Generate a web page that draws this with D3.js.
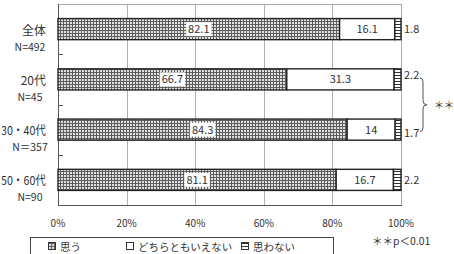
<!DOCTYPE html>
<html>
<head>
<meta charset="utf-8">
<script src="https://cdn.jsdelivr.net/npm/d3@7"></script>
<style>
  body { margin: 0; background: #fff; }
  text { font-family: "Noto Sans CJK JP", "Noto Sans", sans-serif; fill: #333; }
</style>
</head>
<body>
<svg id="chart" width="454" height="254"></svg>
<script>
// chart data
var groups = ["全体", "20代", "30・40代", "50・60代"];
var groupN = ["N=492", "N=45", "N＝357", "N=90"];
var series = ["思う", "どちらともいえない", "思わない"];
var agree = [82.1, 66.7, 84.3, 81.1];
var neutral = [16.1, 31.3, 14, 16.7];
var disagree = [1.8, 2.2, 1.7, 2.2];
var xTicks = [0, 20, 40, 60, 80, 100];
var note = "＊＊p＜0.01";
var braceMark = "＊＊";

var svg = d3.select("#chart");
var plotL = 58, plotR = 401, plotT = 4, plotB = 205;

var x = d3.scaleLinear().domain([0, 100]).range([plotL, plotR]);
var y = d3.scaleBand().domain(groups).range([plotT, plotB])
  .paddingInner(0.58).paddingOuter(0.29);
var step = y.step();

// patterns
var defs = svg.append("defs");
var dots = defs.append("pattern")
  .attr("id", "dots").attr("patternUnits", "userSpaceOnUse")
  .attr("width", 3).attr("height", 3);
dots.append("rect").attr("width", 3).attr("height", 3).attr("fill", "#e0e0e0");
dots.append("rect").attr("width", 3).attr("height", 1).attr("fill", "#5e5e5e");
dots.append("rect").attr("width", 1).attr("height", 3).attr("fill", "#5e5e5e");

var stripes = defs.append("pattern")
  .attr("id", "stripes").attr("patternUnits", "userSpaceOnUse")
  .attr("width", 4).attr("height", 3);
stripes.append("rect").attr("width", 4).attr("height", 3).attr("fill", "#fff");
stripes.append("rect").attr("width", 4).attr("height", 1).attr("fill", "#333");

var fills = ["url(#dots)", "#fff", "url(#stripes)"];

// grid lines
svg.append("g").selectAll("line")
  .data(xTicks.slice(1, -1))
  .enter().append("line")
  .attr("x1", function(d) { return Math.round(x(d)) + 0.5; })
  .attr("x2", function(d) { return Math.round(x(d)) + 0.5; })
  .attr("y1", plotT).attr("y2", plotB)
  .attr("stroke", "#b0b0b0").attr("stroke-width", 1);

// frame
svg.append("line").attr("x1", plotL).attr("x2", plotR).attr("y1", plotT + 0.5).attr("y2", plotT + 0.5)
  .attr("stroke", "#aaa");
svg.append("line").attr("x1", plotR + 0.5).attr("x2", plotR + 0.5).attr("y1", plotT).attr("y2", plotB)
  .attr("stroke", "#aaa");
svg.append("line").attr("x1", plotL).attr("x2", plotR + 1).attr("y1", plotB + 0.5).attr("y2", plotB + 0.5)
  .attr("stroke", "#555");
svg.append("line").attr("x1", plotL + 0.5).attr("x2", plotL + 0.5).attr("y1", plotT).attr("y2", plotB + 1)
  .attr("stroke", "#555");

// inner ticks between groups
svg.append("g").selectAll("line")
  .data(d3.range(1, groups.length))
  .enter().append("line")
  .attr("x1", plotL).attr("x2", plotL + 5)
  .attr("y1", function(k) { return Math.round(plotT + k * step) + 0.5; })
  .attr("y2", function(k) { return Math.round(plotT + k * step) + 0.5; })
  .attr("stroke", "#555");

// stacked bars
var rows = groups.map(function(g, i) {
  var vals = [agree[i], neutral[i], disagree[i]];
  var start = 0;
  return vals.map(function(v, j) {
    var seg = { group: g, idx: i, series: j, value: v, x0: start, x1: start + v };
    start += v;
    return seg;
  });
});

var segs = svg.append("g").selectAll("g")
  .data(rows).enter().append("g");

segs.selectAll("rect")
  .data(function(d) { return d; })
  .enter().append("rect")
  .attr("x", function(d) { return x(d.x0); })
  .attr("y", function(d) { return y(d.group); })
  .attr("width", function(d) { return x(Math.min(d.x1, 100)) - x(d.x0); })
  .attr("height", y.bandwidth())
  .attr("fill", function(d) { return fills[d.series]; })
  .attr("stroke", "#222")
  .attr("stroke-width", 1.4);

// value labels
rows.forEach(function(r) {
  var d = r[0];
  var cx = x((d.x0 + d.x1) / 2);
  var cy = y(d.group) + y.bandwidth() / 2;
  var g = svg.append("g");
  var t = g.append("text")
    .attr("x", cx).attr("y", cy + 4)
    .attr("text-anchor", "middle")
    .attr("font-size", 11)
    .text(d.value);
  var bb = t.node().getBBox();
  g.insert("rect", "text")
    .attr("x", bb.x - 2).attr("y", cy - 7)
    .attr("width", bb.width + 4).attr("height", 14)
    .attr("fill", "#fff");

  var n = r[1];
  svg.append("text")
    .attr("x", x((n.x0 + n.x1) / 2)).attr("y", cy + 4)
    .attr("text-anchor", "middle")
    .attr("font-size", 11)
    .text(n.value);

  var o = r[2];
  var shift = o.idx === 1 ? -4 : (o.idx === 2 ? 3 : 0);
  svg.append("text")
    .attr("x", x(100) + 3).attr("y", cy + 4 + shift)
    .attr("font-size", 11)
    .text(o.value);
});

// category labels
groups.forEach(function(g, i) {
  var cy = y(g) + y.bandwidth() / 2;
  var t = svg.append("text")
    .attr("x", 46).attr("y", cy + 5.5)
    .attr("text-anchor", "end")
    .attr("font-size", 12)
    .text(g);
  // squeeze long labels so they fit left of the axis
  if (t.node().getComputedTextLength() > 45) {
    t.attr("textLength", 45).attr("lengthAdjust", "spacingAndGlyphs");
  }
  svg.append("text")
    .attr("x", 30).attr("y", cy + 21.5)
    .attr("text-anchor", "middle")
    .attr("font-size", 10.5)
    .text(groupN[i]);
});

// x tick labels
svg.append("g").selectAll("text")
  .data(xTicks).enter().append("text")
  .attr("x", function(d) { return x(d); })
  .attr("y", 227)
  .attr("text-anchor", "middle")
  .attr("font-size", 10)
  .text(function(d) { return d + "%"; });

// brace between 20代 and 30・40代
var bTop = y(groups[1]) + y.bandwidth() / 2 - 1.5;
var bBot = y(groups[2]) + y.bandwidth() / 2 + 2;
var bMid = (bTop + bBot) / 2;
var bx = 423;
svg.append("path")
  .attr("d", "M" + (bx - 3) + "," + bTop +
    " Q" + bx + "," + bTop + " " + bx + "," + (bTop + 4) +
    " L" + bx + "," + (bMid - 4) +
    " Q" + bx + "," + bMid + " " + (bx + 4) + "," + bMid +
    " Q" + bx + "," + bMid + " " + bx + "," + (bMid + 4) +
    " L" + bx + "," + (bBot - 4) +
    " Q" + bx + "," + bBot + " " + (bx - 3) + "," + bBot)
  .attr("fill", "none").attr("stroke", "#555").attr("stroke-width", 1);
svg.append("text")
  .attr("x", 434).attr("y", bMid + 4)
  .attr("font-size", 10)
  .text(braceMark);

// legend
svg.append("rect")
  .attr("x", 30.5).attr("y", 237.5)
  .attr("width", 303).attr("height", 30)
  .attr("fill", "#fff").attr("stroke", "#444");
var legendX = [48, 126, 241];
series.forEach(function(s, j) {
  svg.append("rect")
    .attr("x", legendX[j] + 0.5).attr("y", 242.5)
    .attr("width", 7).attr("height", 7)
    .attr("fill", fills[j]).attr("stroke", "#333");
  svg.append("text")
    .attr("x", legendX[j] + 12).attr("y", 250.5)
    .attr("font-size", 10.5)
    .text(s);
});

svg.append("text")
  .attr("x", 372).attr("y", 245)
  .attr("font-size", 10.5)
  .text(note);
</script>
</body>
</html>
